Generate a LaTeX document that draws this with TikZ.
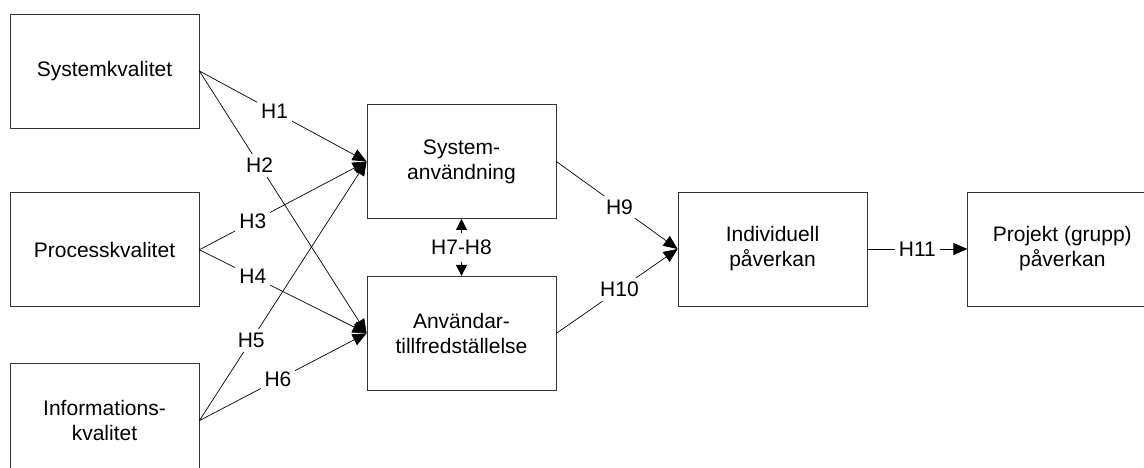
\documentclass[tikz,border=0pt]{standalone}
\usepackage{fontspec}
\setmainfont{Liberation Sans}
\usetikzlibrary{arrows.meta,positioning}
\definecolor{edge}{HTML}{333333}

\begin{document}
\begin{tikzpicture}[
 x=1pt,y=1pt,
 font=\fontsize{21}{25}\selectfont,
 factor/.style={draw=edge,line width=0.8pt,minimum width=189pt,minimum height=114pt,align=center,inner sep=0pt},
 arr/.style={-{Triangle[length=14pt,width=12pt]},line width=0.7pt},
 dblarr/.style={{Triangle[length=11pt,width=11pt]}-{Triangle[length=11pt,width=11pt]},line width=0.7pt},
 hyp/.style={fill=white,inner sep=4pt}
]
\useasboundingbox (0,0) rectangle (1144,468);
\node[factor] (sysq) at (104.5,397) {Systemkvalitet};
\node[factor,below=64pt of sysq] (procq) {Processkvalitet};
\node[factor,below=56pt of procq] (infq) {Informations-\\kvalitet};
\node[factor] (sysuse) at (461.5,306.5) {System-\\användning};
\node[factor,below=57pt of sysuse] (usersat) {Användar-\\tillfredställelse};
\node[factor] (indiv) at (772.5,219) {Individuell\\påverkan};
\node[factor,right=100pt of indiv] (proj) {Projekt (grupp)\\påverkan};
\draw[arr] (sysq.east) -- node[hyp,pos=0.45]{H1} (sysuse.west);
\draw[arr] (sysq.east) -- node[hyp,pos=0.36]{H2} (usersat.west);
\draw[arr] (procq.east) -- node[hyp,pos=0.32]{H3} (sysuse.west);
\draw[arr] (procq.east) -- node[hyp,pos=0.32]{H4} (usersat.west);
\draw[arr] (infq.east) -- node[hyp,pos=0.31]{H5} (sysuse.west);
\draw[arr] (infq.east) -- node[hyp,pos=0.47]{H6} (usersat.west);
\draw[dblarr] (sysuse.south) -- node[hyp,inner ysep=7pt]{H7-H8} (usersat.north);
\draw[arr] (sysuse.east) -- node[hyp,pos=0.52]{H9} (indiv.west);
\draw[arr] (usersat.east) -- node[hyp,pos=0.52]{H10} (indiv.west);
\draw[arr] (indiv.east) -- node[hyp]{H11} (proj.west);
\end{tikzpicture}
\end{document}
